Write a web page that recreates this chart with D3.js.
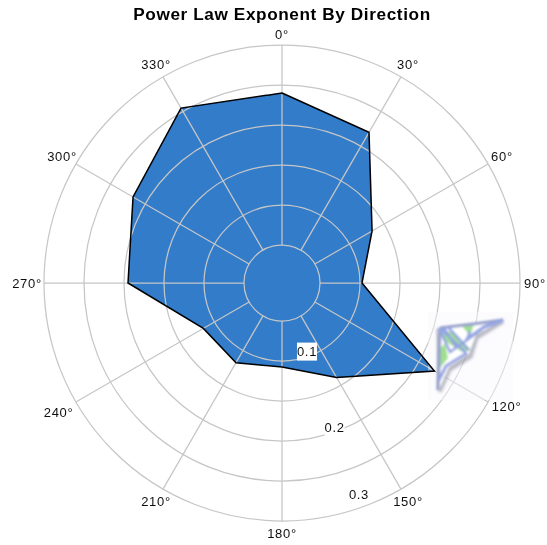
<!DOCTYPE html>
<html><head><meta charset="utf-8">
<script src="https://cdn.jsdelivr.net/npm/d3@7"></script>
<style>
html,body{margin:0;padding:0;background:#fff}
svg{display:block}
text{font-family:"Liberation Sans",Arial,sans-serif;fill:#111}
</style></head><body>
<svg id="c" width="547" height="545"></svg>
<script>
const title = "Power Law Exponent By Direction";
const directions = [0,30,60,90,120,150,180,210,240,270,300,330];
const exponents = [0.24,0.22,0.1325,0.1025,0.2225,0.139,0.1075,0.1175,0.116,0.195,0.2175,0.255];
const rings = [0.05,0.1,0.15,0.2,0.25,0.3];
const radialTicks = [0.1,0.2,0.3];

const cx = 282, cy = 283;
const svg = d3.select("#c");
const defs = svg.append("defs");
defs.append("filter").attr("id","soft").append("feGaussianBlur").attr("stdDeviation",0.35);
defs.append("filter").attr("id","logoBlur").attr("x","-20%").attr("y","-20%").attr("width","140%").attr("height","140%")
  .append("feGaussianBlur").attr("stdDeviation",0.8);
defs.append("filter").attr("id","logoShadow").attr("x","-30%").attr("y","-30%").attr("width","160%").attr("height","160%")
  .append("feGaussianBlur").attr("stdDeviation",1.8);

const r = d3.scaleLinear().domain([0.05,0.3]).range([38,238]);
const ang = d3.scaleLinear().domain([0,360]).range([0,2*Math.PI]);
const px = (a,rad)=>rad*Math.sin(ang(a));
const py = (a,rad)=>-rad*Math.cos(ang(a));

const root = svg.append("g").attr("filter","url(#soft)");
root.append("text").attr("x",282).attr("y",20).attr("text-anchor","middle")
  .attr("font-size",17.2).attr("font-weight","bold").attr("letter-spacing",0.6).style("fill","#000").text(title);

const g = root.append("g").attr("transform",`translate(${cx},${cy})`);

const line = d3.lineRadial().angle(d=>ang(d[0])).radius(d=>r(d[1])).curve(d3.curveLinearClosed);
const pts = d3.zip(directions,exponents);

g.append("path").attr("d",line(pts)).attr("fill","#317cca");
g.append("circle").attr("r",r(0.05)).attr("fill","#317cca");

const gridColor = "#c6c6c6";
g.selectAll("circle.ring").data(rings).join("circle").attr("class","ring")
  .attr("r",d=>r(d)).attr("fill","none").attr("stroke",gridColor).attr("stroke-width",1.25);
g.selectAll("line.spoke").data(directions).join("line").attr("class","spoke")
  .attr("x1",d=>px(d,r(0.05))).attr("y1",d=>py(d,r(0.05)))
  .attr("x2",d=>px(d,r(0.3))).attr("y2",d=>py(d,r(0.3)))
  .attr("stroke",gridColor).attr("stroke-width",1.25);

// watermark logo
const logo = g.append("g").attr("transform",`translate(${-cx},${-cy})`);
logo.append("rect").attr("x",428).attr("y",312).attr("width",85).attr("height",88).attr("fill","#f8f8fe").attr("opacity",0.45);
logo.append("path").attr("d","M438 330 L503 322 L477 338 L471 357 L450 370 L440 392 Z")
  .attr("fill","#77778a").attr("stroke","#77778a").attr("stroke-width",3).attr("opacity",0.5).attr("filter","url(#logoShadow)");
const lb = logo.append("g").attr("filter","url(#logoBlur)");
lb.append("path").attr("d","M438 328 L503 320 L476 335 L469 354 L449 367 L439 390 Z").attr("fill","#fff");
lb.append("path").attr("d","M441 333 L453 331 L471 350 L462 352 L445 341 Z").attr("fill","#9fe08f");
lb.append("path").attr("d","M439 350 L445 343 L448 358 L440 368 Z").attr("fill","#9fe08f");
lb.append("path").attr("d","M462 326 L474 324 L470 336 Z").attr("fill","#9fe08f");
const strut = "#94a4e4";
lb.append("path").attr("d","M440 328 L474 324 L503 320").attr("fill","none").attr("stroke","#9aa4cc").attr("stroke-width",3);
lb.append("path").attr("d","M466 340 L484 327 L503 320").attr("fill","none").attr("stroke",strut).attr("stroke-width",3.6);
lb.append("path").attr("d","M440 328 L438 390").attr("fill","none").attr("stroke","#9aa4cc").attr("stroke-width",3.4);
lb.append("path").attr("d","M440 328 L466 353 M448 327 L469 350 M440 330 L450 352 L467 340 L470 331 M444 328 L456 347").attr("fill","none").attr("stroke",strut).attr("stroke-width",2.6);
lb.append("path").attr("d","M467 353 L446 366 L439 380").attr("fill","none").attr("stroke",strut).attr("stroke-width",3.2);

g.append("path").attr("d",line(pts)).attr("fill","none").attr("stroke","#000").attr("stroke-width",1.5).attr("stroke-linejoin","miter");

// radial tick labels
const tickOffset = d3.scaleOrdinal().domain(radialTicks).range([5,4,13]);
const tickG = g.selectAll("g.tick").data(radialTicks).join("g").attr("class","tick")
  .attr("transform",d=>`translate(${px(160,r(d)-tickOffset(d))},${py(160,r(d)-tickOffset(d))})`);
tickG.append("rect").attr("x",-10).attr("y",-9).attr("width",20).attr("height",18).attr("fill","#fff");
tickG.append("text").attr("text-anchor","middle").attr("dy","0.36em").attr("font-size",13).attr("letter-spacing",0.7).text(d=>d);

// angular labels
const labelR = d3.scaleOrdinal().domain(directions).range([249,252,254,253,256,252,250,252,258,255,254,252]);
const labelA = d3.scaleOrdinal().domain(directions).range([0,30,60,90,118.7,150,180,210,240,270,300,330]);
g.selectAll("text.ang").data(directions).join("text").attr("class","ang")
  .attr("x",d=>px(labelA(d),labelR(d))).attr("y",d=>py(labelA(d),labelR(d)))
  .attr("text-anchor","middle").attr("dy","0.36em").attr("font-size",13).attr("letter-spacing",0.7)
  .text(d=>d+"°");
</script></body></html>
